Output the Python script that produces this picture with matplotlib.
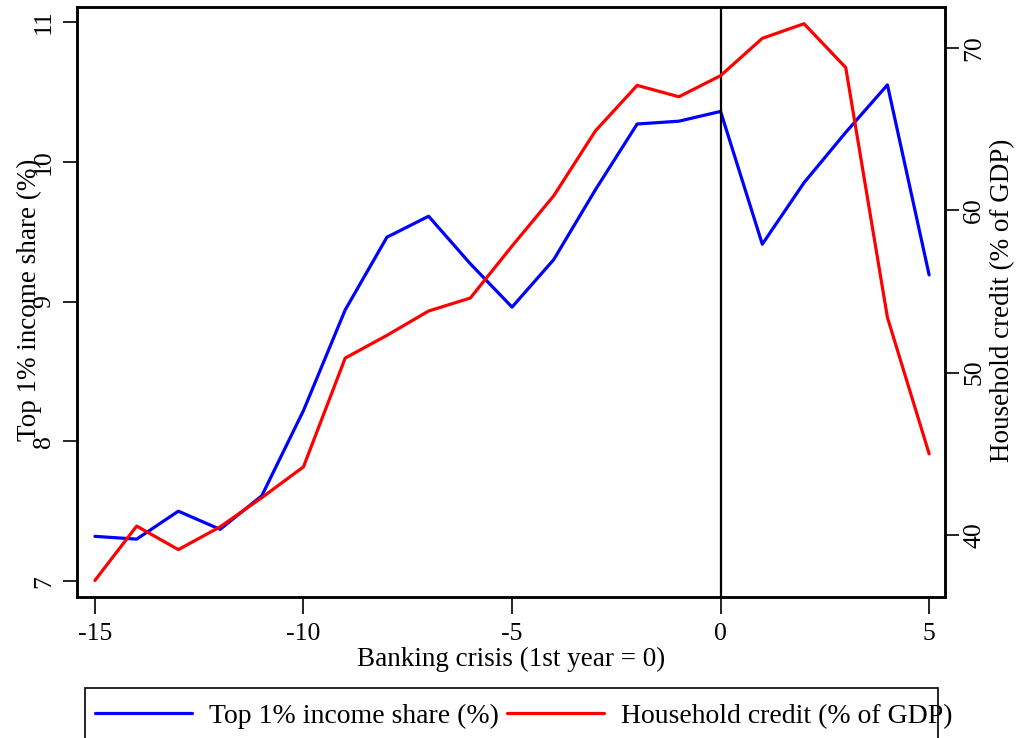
import numpy as np
import matplotlib
matplotlib.use("Agg")
from matplotlib import pyplot as plt
from matplotlib.patches import Rectangle

plt.rcParams['font.family'] = ['Liberation Serif', 'DejaVu Serif']

# years relative to banking crisis
years = list(range(-15, 6))
top1 = [7.32, 7.30, 7.50, 7.37, 7.61, 8.22, 8.94, 9.46, 9.61, 9.27, 8.96,
        9.30, 9.80, 10.27, 10.29, 10.36, 9.41, 9.85, 10.21, 10.55, 9.19]
credit = [37.2, 40.55, 39.1, 40.5, 42.3, 44.2, 50.9, 52.3, 53.8, 54.6, 57.8,
          60.9, 64.9, 67.7, 67.0, 68.3, 70.6, 71.5, 68.8, 53.4, 45.0]

xticks = [-15, -10, -5, 0, 5]
lticks = [7, 8, 9, 10, 11]
rticks = [40, 50, 60, 70]

fs = 19.5
tfs = 18.5
fig = plt.figure(figsize=(10.18, 7.38), dpi=100)
ax1 = fig.add_axes([77/1018, 1-597/738, (945-77)/1018, (597-7)/738])
ax2 = ax1.twinx()

l1, = ax1.plot(years, top1, color='#0000ff', lw=2.3, solid_capstyle='round')
l2, = ax2.plot(years, credit, color='#ff0000', lw=2.3, solid_capstyle='round')
ax1.axvline(0, color='black', lw=1.6)

ax1.set_xlim(-15.43, 5.38)
ax1.set_ylim(6.886, 11.107)
ax2.set_ylim(36.18, 72.53)

ax1.set_xticks(xticks)
ax1.set_xticklabels([str(v) for v in xticks])
ax1.set_yticks(lticks)
ax2.set_yticks(rticks)

for ax in (ax1, ax2):
    for s in ax.spines.values():
        s.set_linewidth(1.8)
ax1.tick_params(axis='x', length=12, width=1.2, labelsize=tfs, pad=7)
ax1.tick_params(axis='y', length=10, width=1.2, labelsize=tfs, pad=6,
                labelrotation=90)
ax2.tick_params(axis='y', length=10, width=1.2, labelsize=tfs, pad=3,
                labelrotation=90)
for t in ax1.get_yticklabels():
    t.set_va('center')
for t in ax2.get_yticklabels():
    t.set_va('center')

ax1.set_xlabel('Banking crisis (1st year = 0)', fontsize=fs, labelpad=1)
ax1.set_ylabel('Top 1% income share (%)', fontsize=fs)
ax1.yaxis.set_label_coords(-0.040, 0.503)
ax2.set_ylabel('Household credit (% of GDP)', fontsize=fs, rotation=90)
ax2.yaxis.set_label_coords(1.052, 0.503)

# legend box (runs off the bottom edge like the original)
fig.patches.append(Rectangle((85/1018, -0.05), (938-85)/1018, 0.05 + 1-688/738,
                             transform=fig.transFigure, fill=False,
                             ec='black', lw=1.2))
fig.legend([l1, l2], ['Top 1% income share (%)', 'Household credit (% of GDP)'],
           ncol=2, frameon=False, fontsize=20, loc='center left',
           bbox_to_anchor=(95/1018, 1-716/738), handlelength=3.5,
           handletextpad=0.6, columnspacing=0.3, borderpad=0, borderaxespad=0)

fig.savefig('out.png', dpi=100)
